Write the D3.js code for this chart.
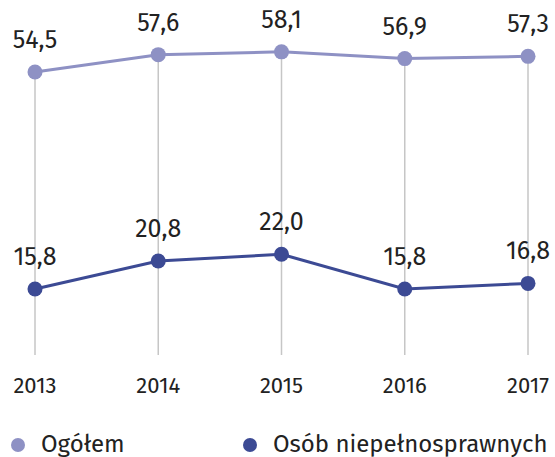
<!DOCTYPE html>
<html><head><meta charset="utf-8">
<script src="https://cdn.jsdelivr.net/npm/d3@7"></script>
<style>body{margin:0;background:#fff}svg{display:block}text{font-family:"Fira Sans","Open Sans",sans-serif;fill:#222}</style>
</head><body><svg id="c" width="555" height="457"></svg>
<script>
const years = ["2013","2014","2015","2016","2017"];
const ogolem = [54.5, 57.6, 58.1, 56.9, 57.3];
const niepelnosprawni = [15.8, 20.8, 22.0, 15.8, 16.8];
const seriesNames = ["Ogółem", "Osób niepełnosprawnych"];
const colors = ["#8e91c4", "#3c4a94"];

const svg = d3.select("#c");
const x = d3.scalePoint().domain(years).range([35, 528]);
const y = d3.scaleLinear().domain([0, 60]).range([377.6, 41.2]);
const fmt = v => d3.format(".1f")(v).replace(".", ",");

// gridlines
svg.append("g").selectAll("line").data(years).join("line")
  .attr("x1", d => x(d)).attr("x2", d => x(d))
  .attr("y1", (d, i) => y(ogolem[i])).attr("y2", 355)
  .attr("stroke", "#c6c6c6").attr("stroke-width", 1.5);

// year labels
svg.append("g").selectAll("text").data(years).join("text")
  .attr("x", d => x(d)).attr("y", 393).attr("text-anchor", "middle")
  .attr("font-size", 22).text(d => d);

const series = [ogolem, niepelnosprawni];
series.forEach((vals, s) => {
  const g = svg.append("g");
  const line = d3.line().x((d, i) => x(years[i])).y(d => y(d));
  g.append("path").datum(vals).attr("d", line).attr("fill", "none")
    .attr("stroke", colors[s]).attr("stroke-width", 3);
  g.selectAll("circle").data(vals).join("circle")
    .attr("cx", (d, i) => x(years[i])).attr("cy", d => y(d)).attr("r", 7.5)
    .attr("fill", colors[s]);
  g.selectAll("text").data(vals).join("text")
    .attr("x", (d, i) => x(years[i])).attr("y", d => y(d) - 24)
    .attr("text-anchor", "middle").attr("font-size", 25).text(fmt);
});

// legend
const legX = [18, 250], legTextX = [41, 273];
seriesNames.forEach((n, s) => {
  svg.append("circle").attr("cx", legX[s]).attr("cy", 445).attr("r", 7).attr("fill", colors[s]);
  svg.append("text").attr("x", legTextX[s]).attr("y", 452).attr("font-size", 24).text(n);
});
</script></body></html>
